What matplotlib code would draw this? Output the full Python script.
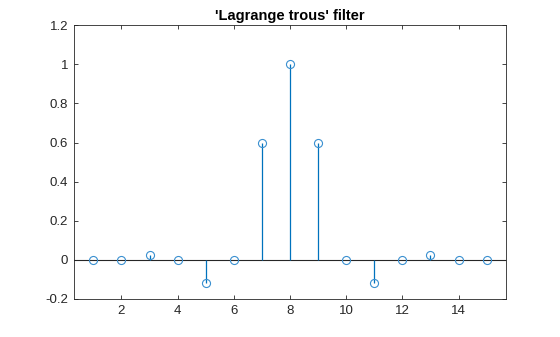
import matplotlib.pyplot as plt
import numpy as np

plt.rcParams['font.family'] = ['Liberation Sans', 'DejaVu Sans']

# Lagrange a trous filter taps
n = list(range(1, 16))
h = [-5, 0, 49, 0, -245, 0, 1225, 2048, 1225, 0, -245, 0, 49, 0, -5]
h = np.array(h) / 2048.0

blue = '#0072BD'
axcol = '#262626'

fig = plt.figure(figsize=(5.6, 3.37), dpi=100)
ax = fig.add_axes([0.1316, 0.1128, 0.7725, 0.8122])

markers, stems, base = ax.stem(n, h, basefmt=' ')
plt.setp(stems, color=blue, linewidth=0.9)
plt.setp(markers, color='#3a8fd0', markerfacecolor='none', markersize=5.8, markeredgewidth=0.8)
ax.axhline(0, color=axcol, linewidth=0.8, zorder=1)

ax.set_xlim(0.3, 15.7)
ax.set_ylim(-0.2, 1.2)
ax.set_xticks([2, 4, 6, 8, 10, 12, 14])
ax.set_yticks([-0.2, 0, 0.2, 0.4, 0.6, 0.8, 1, 1.2])
ax.set_yticklabels(['-0.2', '0', '0.2', '0.4', '0.6', '0.8', '1', '1.2'])

ax.tick_params(direction='in', top=True, right=True, length=3, width=0.6,
               colors=axcol, labelsize=9.5, pad=4)
for s in ax.spines.values():
    s.set_color(axcol)
    s.set_linewidth(0.6)

ax.set_title("'Lagrange trous' filter", fontsize=10.5, fontweight='bold', color='black', pad=4)

fig.savefig('out.png', dpi=100)
